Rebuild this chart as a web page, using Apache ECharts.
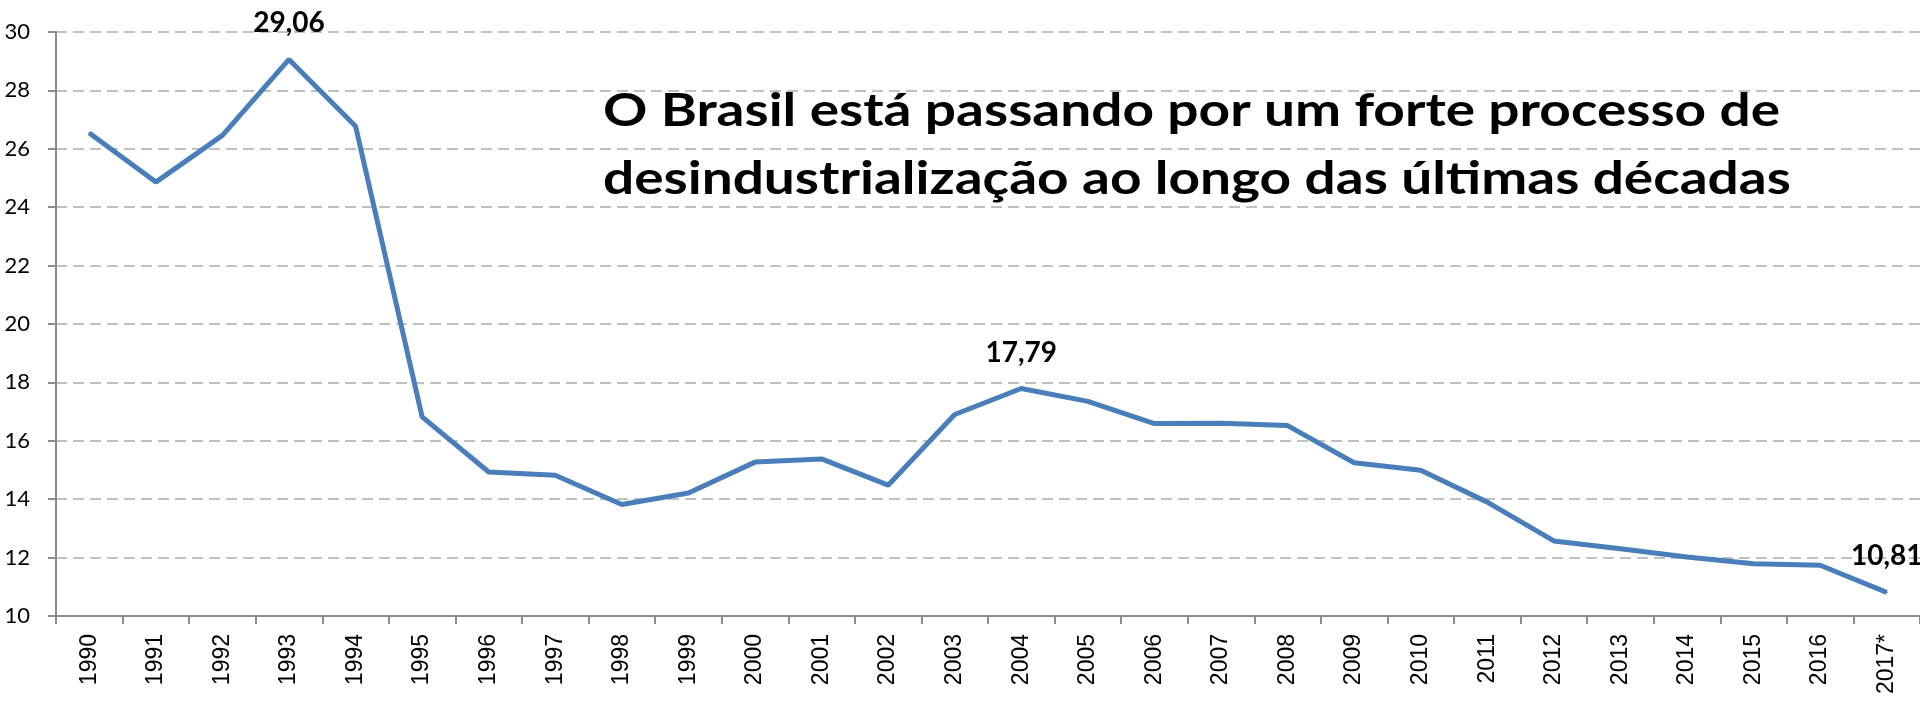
<!DOCTYPE html>
<html>
<head>
<meta charset="utf-8">
<script src="https://cdn.jsdelivr.net/npm/echarts@6/dist/echarts.min.js"></script>
<style>
html,body{margin:0;padding:0;background:#fff;}
#c{width:1920px;height:701px;}
</style>
</head>
<body>
<div id="c"></div>
<script>
var categories = ['1990','1991','1992','1993','1994','1995','1996','1997','1998','1999','2000','2001','2002','2003','2004','2005','2006','2007','2008','2009','2010','2011','2012','2013','2014','2015','2016','2017*'];
var values = [26.54,24.86,26.46,29.06,26.77,16.82,14.93,14.82,13.82,14.21,15.27,15.38,14.48,16.90,17.79,17.35,16.59,16.60,16.52,15.25,14.99,13.90,12.57,12.30,12.02,11.79,11.74,10.81];
var labeledIdx = [3,14,27];
var yTicks = {min:10, max:30, interval:2};
var titleLines = ['O Brasil está passando por um forte processo de','desindustrialização ao longo das últimas décadas'];

var seriesData = values.map(function(v,i){
  var item = {value:v};
  if (labeledIdx.indexOf(i) >= 0) item.label = {show:true};
  return item;
});

var chart = echarts.init(document.getElementById('c'), null, {renderer:'canvas'});
chart.setOption({
  animation:false,
  backgroundColor:'#ffffff',
  graphic:[{
    type:'text', x:603, y:77, scaleX:1.195, scaleY:1, z:10,
    style:{text:titleLines.join('\n'), fill:'#000', font:'bold 46px Lato', lineHeight:68}
  }],
  grid:{left:56, right:0, top:32, bottom:85, containLabel:false},
  xAxis:{
    type:'category', data:categories, boundaryGap:true,
    axisLine:{lineStyle:{color:'#8c8c8c', width:2}},
    axisTick:{show:true, length:8, inside:false, alignWithLabel:false, interval:0, lineStyle:{color:'#8c8c8c', width:2}},
    axisLabel:{interval:0, rotate:90, margin:18, fontFamily:'Liberation Sans', fontSize:23, color:'#000'},
    splitLine:{show:false}
  },
  yAxis:{
    type:'value', min:yTicks.min, max:yTicks.max, interval:yTicks.interval,
    axisLine:{show:true, lineStyle:{color:'#8c8c8c', width:2}},
    axisTick:{show:true, length:8, inside:false, lineStyle:{color:'#8c8c8c', width:2}},
    axisLabel:{margin:26, fontFamily:'Lato', fontSize:22, color:'#000'},
    splitLine:{show:true, lineStyle:{color:'#c0c0c0', width:2, type:[11,6]}}
  },
  series:[{
    type:'line', data:seriesData,
    showSymbol:true, symbol:'circle', symbolSize:2,
    itemStyle:{color:'#4a7ebb'},
    lineStyle:{color:'#4a7ebb', width:5},
    label:{show:false, position:'top', distance:21, fontFamily:'Lato', fontWeight:'bold', fontSize:28, color:'#000',
      formatter:function(p){return p.value.toFixed(2).replace('.',',');}},
    emphasis:{disabled:true}
  }]
});
</script>
</body>
</html>
